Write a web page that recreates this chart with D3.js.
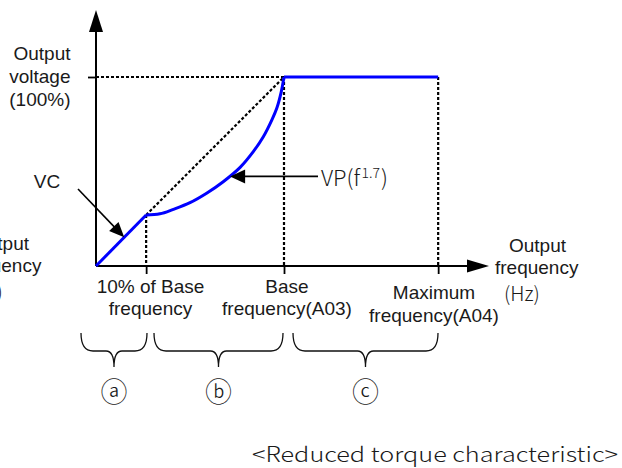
<!DOCTYPE html>
<html>
<head>
<meta charset="utf-8">
<script src="https://cdn.jsdelivr.net/npm/d3@7"></script>
<style>
  html, body { margin: 0; padding: 0; background: #fff; }
  svg { display: block; }
  .lbl { font-family: "Liberation Sans", Arial, sans-serif; font-size: 19px; fill: #1a1a1a; }
  .gul { font-family: "Noto Sans CJK KR", "DejaVu Sans", sans-serif; fill: #1a1a1a; font-weight: 300; }
</style>
</head>
<body>
<script>
// ---- data (schematic frequency units; base frequency = 60) ----
const keyFreqs   = [16, 60, 109.2];          // 10% of base, base (A03), maximum (A04)
const keyLabels  = [["10% of Base", "frequency"], ["Base", "frequency(A03)"], ["Maximum", "frequency(A04)"]];
const ratedVolt  = [100];                    // output voltage 100%
const vcFreq     = [0, 16];
const vcVolt     = [0, 27];
const vpFreq     = [16, 20.4, 24.7, 30.0, 35.3, 40.6, 46.0, 50.2, 53.4, 56.1, 57.8, 59.1, 60];
const vpVolt     = [27, 27.6, 30.0, 33.5, 38.5, 44.6, 52.2, 60.5, 68.4, 77.2, 84.0, 92.0, 100];
const constFreq  = [60, 109.2];
const constVolt  = [100, 100];
const regions    = [[0, 16, "ⓐ"], [16, 60, "ⓑ"], [60, 109.2, "ⓒ"]];
const vcArrowF   = 9;     // where the VC arrow touches the line
const vpArrowF   = 42.8;  // where the VP arrow touches the curve
const vpArrowV   = 47.4;

const W = 622, H = 468;
const x = d3.scaleLinear().domain([0, 60]).range([96, 284]);
const y = d3.scaleLinear().domain([0, 100]).range([266, 77]);

const svg = d3.select("body").append("svg").attr("width", W).attr("height", H);

const line = d3.line().x(d => x(d[0])).y(d => y(d[1]));
const zip = (a, b) => a.map((v, i) => [v, b[i]]);

// ---- dotted guide lines ----
function dotted(pts) {
  svg.append("path").attr("d", line(pts))
    .attr("stroke", "#000").attr("stroke-width", 2.2).attr("stroke-dasharray", "3,2").attr("fill", "none");
}
dotted([[0, ratedVolt[0]], [keyFreqs[1], ratedVolt[0]]]);
dotted([[vcFreq[1], vcVolt[1]], [keyFreqs[1], ratedVolt[0]]]);
dotted([[keyFreqs[0], vcVolt[1]], [keyFreqs[0], 0]]);
dotted([[keyFreqs[1], ratedVolt[0]], [keyFreqs[1], 0]]);
dotted([[keyFreqs[2], ratedVolt[0]], [keyFreqs[2], 0]]);

// ---- axes ----
const xAxis = d3.axisBottom(x).tickValues(keyFreqs).tickSize(8).tickFormat("");
const yAxis = d3.axisLeft(y).tickValues(ratedVolt).tickSize(8).tickFormat("");
const gx = svg.append("g").attr("transform", `translate(0,${y(0)})`).call(xAxis);
const gy = svg.append("g").attr("transform", `translate(${x(0)},0)`).call(yAxis);
[gx, gy].forEach(g => {
  g.select(".domain").remove();
  g.selectAll("line").attr("stroke", "#000").attr("stroke-width", 1.8);
});
const xEnd = 470, xTip = 489, yEnd = 30, yTip = 10;
svg.append("line").attr("x1", x(0)).attr("y1", y(0)).attr("x2", xEnd).attr("y2", y(0))
  .attr("stroke", "#000").attr("stroke-width", 2);
svg.append("line").attr("x1", x(0)).attr("y1", y(0)).attr("x2", x(0)).attr("y2", yEnd)
  .attr("stroke", "#000").attr("stroke-width", 2);
svg.append("path").attr("d", `M${xTip},${y(0)} L467,${y(0) - 6.5} L467,${y(0) + 6.5} Z`).attr("fill", "#000");
svg.append("path").attr("d", `M${x(0)},${yTip} L${x(0) - 7},32 L${x(0) + 7},32 Z`).attr("fill", "#000");

// ---- characteristic (blue) ----
const blue = "#0000ff";
svg.append("path").attr("d", line(zip(vcFreq, vcVolt))).attr("stroke", blue).attr("stroke-width", 3).attr("fill", "none");
const curveLine = d3.line().x(d => x(d[0])).y(d => y(d[1])).curve(d3.curveCatmullRom.alpha(0.5));
svg.append("path").attr("d", curveLine(zip(vpFreq, vpVolt))).attr("stroke", blue).attr("stroke-width", 3).attr("fill", "none");
svg.append("path").attr("d", line(zip(constFreq, constVolt))).attr("stroke", blue).attr("stroke-width", 3).attr("fill", "none");

// ---- annotation arrows ----
function arrow(x1, y1, x2, y2, len, hw) {
  const dx = x2 - x1, dy = y2 - y1, L = Math.hypot(dx, dy);
  const ux = dx / L, uy = dy / L;
  const bx = x2 - ux * len, by = y2 - uy * len;
  svg.append("line").attr("x1", x1).attr("y1", y1).attr("x2", bx + ux * 2).attr("y2", by + uy * 2)
    .attr("stroke", "#000").attr("stroke-width", 1.6);
  svg.append("path").attr("d",
    `M${x2},${y2} L${bx - uy * hw},${by + ux * hw} L${bx + uy * hw},${by - ux * hw} Z`).attr("fill", "#000");
}
const vcTipY = y(d3.scaleLinear().domain(vcFreq).range(vcVolt)(vcArrowF));
arrow(78, 189, x(vcArrowF), vcTipY, 15, 6.5);
arrow(318, y(vpArrowV), x(vpArrowF), y(vpArrowV), 15, 7);

// ---- labels ----
function text(cls, tx, ty, anchor, str, size) {
  const t = svg.append("text").attr("class", cls).attr("x", tx).attr("y", ty).attr("text-anchor", anchor).text(str);
  if (size) t.style("font-size", size + "px");
  return t;
}
text("lbl", 70.5, 60, "end", "Output");
text("lbl", 70.5, 83, "end", "voltage");
text("lbl", 70.5, 106, "end", "(100%)");
text("lbl", 47, 188, "middle", "VC");

// x key labels
const labelCx = [150.5, 287, 434];
const labelY = [[292.7, 315], [292.7, 315], [299, 321.7]];
keyLabels.forEach((ls, i) => {
  text("lbl", labelCx[i], labelY[i][0], "middle", ls[0]);
  text("lbl", labelCx[i], labelY[i][1], "middle", ls[1]);
});

// x-axis title (right) and its clipped copy (left)
text("lbl", 537.5, 251.7, "middle", "Output");
text("lbl", 536.7, 274, "middle", "frequency");
text("gul", 522, 300.7, "middle", "(Hz)", 20);
text("lbl", 0.5, 249.5, "middle", "Output");
text("lbl", -0.3, 272, "middle", "frequency");
text("gul", -15, 298.5, "middle", "(Hz)", 20);

// VP label
const vp = svg.append("text").attr("class", "gul").attr("x", 321).attr("y", 185.5).style("font-size", "22px");
vp.append("tspan").text("VP(f");
vp.append("tspan").attr("dy", -8).attr("dx", 1.5).style("font-size", "14px").text("1.7");
vp.append("tspan").attr("dy", 8).attr("dx", 1).text(")");

// braces + region markers
const braceX = [[81, 147], [154, 283], [293, 438]];
regions.forEach(([f0, f1, lab], i) => {
  const x0 = braceX[i][0], x1 = braceX[i][1];
  const xm = (x0 + x1) / 2, yt = 333, yb = 351, yc = 367, r = 12, rc = 8;
  const d = `M${x0},${yt} Q${x0},${yb} ${x0 + r},${yb} L${xm - rc},${yb} Q${xm},${yb} ${xm},${yc}` +
            ` Q${xm},${yb} ${xm + rc},${yb} L${x1 - r},${yb} Q${x1},${yb} ${x1},${yt}`;
  svg.append("path").attr("d", d).attr("fill", "none").attr("stroke", "#111").attr("stroke-width", 1.3);
  text("gul", xm, 401.5, "middle", lab, 27);
});

// caption
text("gul", 252, 461.5, "start", "<Reduced torque characteristic>", 21).attr("textLength", 366).attr("lengthAdjust", "spacingAndGlyphs");
</script>
</body>
</html>
